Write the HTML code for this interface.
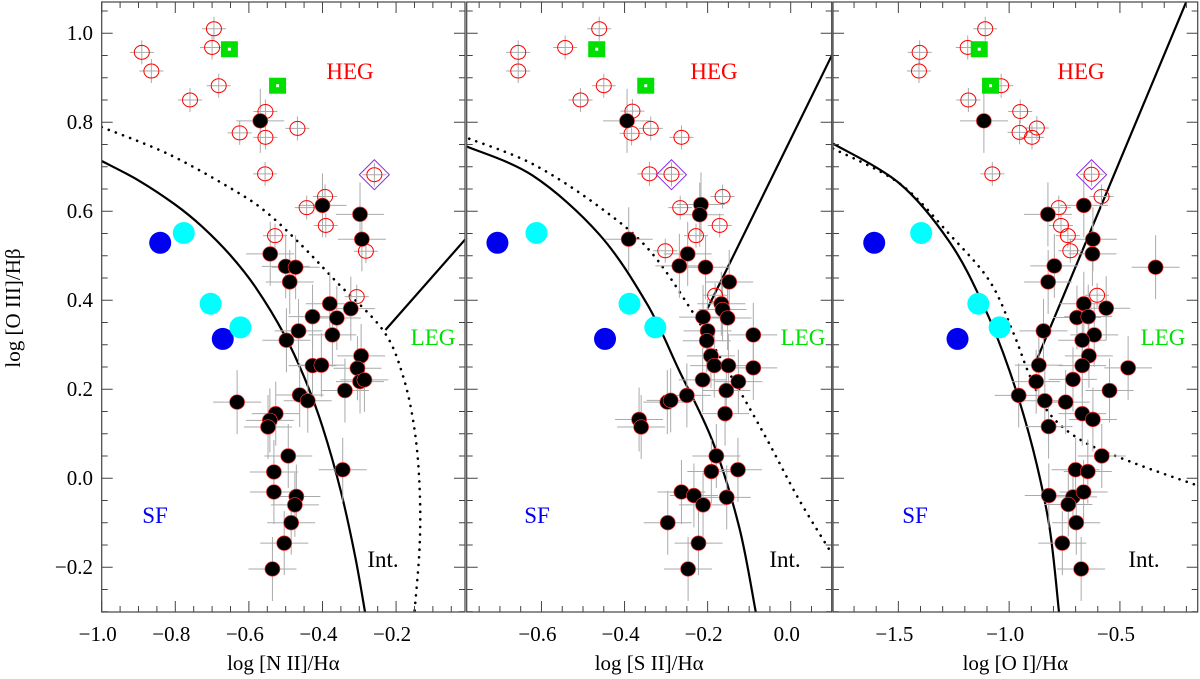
<!DOCTYPE html>
<html><head><meta charset="utf-8"><style>
html,body{margin:0;padding:0;background:#fff;}
svg{display:block;font-family:"Liberation Serif",serif;}
</style></head><body>
<svg id="chart" width="1200" height="679" viewBox="0 0 1200 679" xmlns="http://www.w3.org/2000/svg">
<text transform="translate(20,308) rotate(-90)" text-anchor="middle" font-size="21">log [O III]/Hβ</text>
</svg>
<script>
// ---------- DATA ----------
// Panel 1: [N II]/Hα
const niiHegX=[-0.891,-0.865,-0.695,-0.700,-0.682,-0.760,-0.555,-0.625,-0.555,-0.468,-0.556,-0.393,-0.443,-0.391,-0.529,-0.259,-0.282,-0.307];
const niiHegY=[0.957,0.915,1.010,0.968,0.882,0.850,0.824,0.776,0.766,0.786,0.684,0.633,0.608,0.568,0.545,0.682,0.510,0.408];
const niiLegX=[-0.569,-0.400,-0.298,-0.293,-0.542,-0.500,-0.473,-0.489,-0.380,-0.427,-0.361,-0.323,-0.465,-0.498,-0.373,-0.295,-0.427,-0.403,-0.305,-0.298,-0.286,-0.339,-0.462,-0.440,-0.632,-0.527,-0.543,-0.548,-0.493,-0.345,-0.532,-0.532,-0.471,-0.475,-0.485,-0.504,-0.536];
const niiLegY=[0.803,0.613,0.593,0.537,0.504,0.476,0.474,0.441,0.392,0.363,0.360,0.381,0.331,0.310,0.322,0.275,0.253,0.254,0.247,0.217,0.221,0.197,0.187,0.174,0.171,0.145,0.130,0.115,0.050,0.019,0.014,-0.031,-0.041,-0.060,-0.100,-0.146,-0.204];
const niiSfX=[-0.841,-0.671], niiSfY=[0.529,0.313];
const niiCyX=[-0.777,-0.704,-0.623], niiCyY=[0.551,0.392,0.339];
const niiGrX=[-0.653,-0.522], niiGrY=[0.964,0.882];
const niiDiaX=[-0.259], niiDiaY=[0.682];
// Panel 2: [S II]/Hα
const siiHegX=[-0.461,-0.543,-0.656,-0.656,-0.450,-0.506,-0.381,-0.383,-0.337,-0.263,-0.340,-0.287,-0.164,-0.266,-0.171,-0.228,-0.302,-0.182];
const siiHegY=[1.010,0.968,0.957,0.915,0.882,0.850,0.825,0.775,0.786,0.766,0.684,0.683,0.633,0.608,0.568,0.545,0.511,0.411];
const siiLegX=[-0.394,-0.216,-0.219,-0.390,-0.248,-0.268,-0.205,-0.148,-0.167,-0.164,-0.152,-0.211,-0.200,-0.202,-0.090,-0.192,-0.184,-0.150,-0.090,-0.212,-0.126,-0.155,-0.250,-0.297,-0.289,-0.158,-0.365,-0.360,-0.179,-0.191,-0.127,-0.263,-0.233,-0.211,-0.154,-0.296,-0.222,-0.247];
const siiLegY=[0.803,0.615,0.592,0.537,0.504,0.477,0.474,0.441,0.392,0.379,0.360,0.362,0.331,0.309,0.322,0.275,0.253,0.253,0.248,0.221,0.217,0.197,0.186,0.171,0.175,0.145,0.132,0.115,0.050,0.015,0.019,-0.031,-0.039,-0.060,-0.043,-0.100,-0.146,-0.204];
const siiSfX=[-0.706,-0.447], siiSfY=[0.529,0.313];
const siiCyX=[-0.612,-0.388,-0.326], siiCyY=[0.551,0.392,0.339];
const siiGrX=[-0.467,-0.349], siiGrY=[0.964,0.882];
const siiDiaX=[-0.287], siiDiaY=[0.682];
// Panel 3: [O I]/Hα
const oiHegX=[-1.108,-1.404,-1.407,-1.187,-1.036,-1.184,-0.950,-0.953,-0.875,-0.897,-1.076,-0.628,-0.583,-0.776,-0.766,-0.735,-0.724,-0.603];
const oiHegY=[1.010,0.957,0.915,0.968,0.882,0.850,0.824,0.777,0.787,0.766,0.684,0.683,0.633,0.608,0.568,0.545,0.511,0.411];
const oiLegX=[-1.114,-0.663,-0.825,-0.622,-0.624,-0.796,-0.824,-0.339,-0.663,-0.562,-0.694,-0.643,-0.845,-0.616,-0.670,-0.640,-0.670,-0.866,-0.463,-0.878,-0.712,-0.547,-0.957,-0.839,-0.745,-0.670,-0.622,-0.822,-0.582,-0.700,-0.645,-0.821,-0.712,-0.664,-0.733,-0.697,-0.760,-0.675];
const oiLegY=[0.803,0.613,0.593,0.537,0.504,0.477,0.441,0.474,0.392,0.382,0.361,0.363,0.331,0.322,0.310,0.275,0.253,0.254,0.248,0.217,0.222,0.197,0.186,0.174,0.171,0.145,0.132,0.116,0.050,0.019,0.015,-0.039,-0.042,-0.031,-0.059,-0.100,-0.146,-0.204];
const oiSfX=[-1.609,-1.233], oiSfY=[0.529,0.313];
const oiCyX=[-1.397,-1.139,-1.043], oiCyY=[0.551,0.392,0.339];
const oiGrX=[-1.135,-1.084], oiGrY=[0.964,0.882];
const oiDiaX=[-0.628], oiDiaY=[0.682];
// demarcation lines (data coords)
const niiSolidX=[-1.0,-0.9,-0.8,-0.727,-0.65,-0.58,-0.505,-0.45,-0.4,-0.35,-0.31,-0.284];
const niiDotX=[-1.0,-0.818,-0.636,-0.55,-0.455,-0.364,-0.236,-0.182,-0.150,-0.136,-0.136,-0.150];
const niiDotY=[0.789,0.728,0.645,0.596,0.522,0.443,0.333,0.232,0.110,-0.022,-0.154,-0.301];
const niiLineX=[-0.229,0.0], niiLineY=[0.333,0.548];
const siiSolidX=[-0.782,-0.621,-0.461,-0.345,-0.268,-0.188,-0.124,-0.084];
const siiSolidY=[0.746,0.680,0.548,0.390,0.241,0.083,-0.110,-0.301];
const siiDotX=[-0.774,-0.621,-0.461,-0.341,-0.236,-0.140,-0.060,0.020,0.100];
const siiDotY=[0.763,0.706,0.610,0.513,0.373,0.224,0.092,-0.048,-0.171];
const siiLineX=[-0.200,0.100], siiLineY=[0.382,0.952];
const oiSolidX=[-1.795,-1.494,-1.269,-1.118,-0.998,-0.893,-0.818,-0.775];
const oiSolidY=[0.752,0.662,0.531,0.391,0.241,0.066,-0.110,-0.301];
const oiDotX=[-1.795,-1.494,-1.269,-1.088,-0.983,-0.908,-0.818,-0.667,-0.442,-0.141];
const oiDotY=[0.741,0.662,0.548,0.443,0.329,0.232,0.145,0.083,0.035,-0.018];
const oiLineX=[-0.878,-0.201], oiLineY=[0.263,1.070];
const yTicks=[-0.2,0.0,0.2,0.4,0.6,0.8,1.0];
const yTickLabels=["−0.2","0.0","0.2","0.4","0.6","0.8","1.0"];
const niiTicks=[-1.0,-0.8,-0.6,-0.4,-0.2], niiTickLabels=["−1.0","−0.8","−0.6","−0.4","−0.2"];
const siiTicks=[-0.6,-0.4,-0.2,0.0], siiTickLabels=["−0.6","−0.4","−0.2","0.0"];
const oiTicks=[-1.5,-1.0,-0.5], oiTickLabels=["−1.5","−1.0","−0.5"];

// ---------- RENDER ----------
const NS="http://www.w3.org/2000/svg";
const svg=document.getElementById('chart');
function mk(tag,attrs,parent){const e=document.createElementNS(NS,tag);for(const k in attrs)e.setAttribute(k,attrs[k]);(parent||svg).appendChild(e);return e;}
const Y0=2,Y1=612;
function yScale(v){return 33.2+(1-v)*445;}
const panels=[
 {key:'nii',x0:101.7,x1:465,xmin:-1.0,xmax:-0.0127,minor:0.05,ticks:niiTicks,labels:niiTickLabels,title:'log [N II]/Hα',
  heg:[niiHegX,niiHegY],leg:[niiLegX,niiLegY],sf:[niiSfX,niiSfY],cy:[niiCyX,niiCyY],gr:[niiGrX,niiGrY],dia:[niiDiaX,niiDiaY],
  solid:[niiSolidX,niiSolidX.map(x=>0.383/(x+0.011)+1.1)],dot:[niiDotX,niiDotY],line:[niiLineX,niiLineY],
  lab:{heg:[350,79],leg:[433,345],sf:[155,523],int:[383,567]}},
 {key:'sii',x0:466.7,x1:831.7,xmin:-0.780,xmax:0.0987,minor:0.05,ticks:siiTicks,labels:siiTickLabels,title:'log [S II]/Hα',
  heg:[siiHegX,siiHegY],leg:[siiLegX,siiLegY],sf:[siiSfX,siiSfY],cy:[siiCyX,siiCyY],gr:[siiGrX,siiGrY],dia:[siiDiaX,siiDiaY],
  solid:[siiSolidX,siiSolidY],dot:[siiDotX,siiDotY],line:[siiLineX,siiLineY],
  lab:{heg:[714,79],leg:[803,345],sf:[537,523],int:[785,567]}},
 {key:'oi',x0:833,x1:1197.7,xmin:-1.795,xmax:-0.149,minor:0.1,ticks:oiTicks,labels:oiTickLabels,title:'log [O I]/Hα',
  heg:[oiHegX,oiHegY],leg:[oiLegX,oiLegY],sf:[oiSfX,oiSfY],cy:[oiCyX,oiCyY],gr:[oiGrX,oiGrY],dia:[oiDiaX,oiDiaY],
  solid:[oiSolidX,oiSolidY],dot:[oiDotX,oiDotY],line:[oiLineX,oiLineY],
  lab:{heg:[1081,79],leg:[1163,345],sf:[915,523],int:[1144,567]}}
];
function smooth(pts){
 let d='M'+pts[0][0].toFixed(1)+','+pts[0][1].toFixed(1);
 for(let i=0;i<pts.length-1;i++){
  const p0=pts[Math.max(0,i-1)],p1=pts[i],p2=pts[i+1],p3=pts[Math.min(pts.length-1,i+2)];
  const c1=[p1[0]+(p2[0]-p0[0])/6,p1[1]+(p2[1]-p0[1])/6];
  const c2=[p2[0]-(p3[0]-p1[0])/6,p2[1]-(p3[1]-p1[1])/6];
  d+=`C${c1[0].toFixed(1)},${c1[1].toFixed(1)} ${c2[0].toFixed(1)},${c2[1].toFixed(1)} ${p2[0].toFixed(1)},${p2[1].toFixed(1)}`;
 }
 return d;
}
panels.forEach((p,pi)=>{
 const xs=v=>p.x0+(v-p.xmin)/(p.xmax-p.xmin)*(p.x1-p.x0);
 const g=mk('g',{});
 
 
 const cp=mk('clipPath',{id:'clip'+pi},g);
 mk('rect',{x:p.x0,y:Y0,width:p.x1-p.x0,height:Y1-Y0},cp);
 const plot=mk('g',{'clip-path':'url(#clip'+pi+')'},g);
 const pts=(arrX,arrY)=>arrX.map((x,i)=>[xs(x),yScale(arrY[i])]);
 const sl=mk('path',{d:smooth(pts(p.solid[0],p.solid[1])),fill:'none',stroke:'#000','stroke-width':2.2},plot);
 
 
 const dl=mk('path',{d:smooth(pts(p.dot[0],p.dot[1])),fill:'none',stroke:'#000','stroke-width':2.6,'stroke-dasharray':'0.1,7.5','stroke-linecap':'round'},plot);
 
 
 const lp=pts(p.line[0],p.line[1]);
 const ll=mk('path',{d:`M${lp[0][0]},${lp[0][1]}L${lp[1][0]},${lp[1][1]}`,fill:'none',stroke:'#000','stroke-width':2.2},plot);
 
 
 const eb=(X,Y,ex,ey)=>X.forEach((x,i)=>{
   const cx=xs(x),cy=yScale(Y[i]);
   const e=mk('path',{d:`M${cx-ex},${cy}H${cx+ex}M${cx},${cy-ey}V${cy+ey}`,stroke:'#aaa','stroke-width':1,fill:'none'},plot);
   
   
 });
 eb(p.leg[0],p.leg[1],24,32);
 eb(p.heg[0],p.heg[1],12,12);
 p.heg[0].forEach((x,i)=>{
   const c=mk('ellipse',{cx:xs(x),cy:yScale(p.heg[1][i]),rx:7.5,ry:7,fill:'none',stroke:'#f00','stroke-width':1},plot);
   
   
 });
 p.leg[0].forEach((x,i)=>{
   const c=mk('ellipse',{cx:xs(x),cy:yScale(p.leg[1][i]),rx:7.5,ry:7.3,fill:'#000',stroke:'#f33','stroke-width':0.7},plot);
   
   
 });
 p.sf[0].forEach((x,i)=>{
   const c=mk('ellipse',{cx:xs(x),cy:yScale(p.sf[1][i]),rx:11,ry:11,fill:'#0000f0'},plot);
   
   
 });
 p.cy[0].forEach((x,i)=>{
   const c=mk('ellipse',{cx:xs(x),cy:yScale(p.cy[1][i]),rx:11,ry:11,fill:'#00ffff'},plot);
   
   
 });
 p.gr[0].forEach((x,i)=>{
   const cx=xs(x),cy=yScale(p.gr[1][i]);
   const r=mk('rect',{x:cx-8.5,y:cy-8,width:17,height:16,fill:'#00e000'},plot);
   
   
   mk('rect',{x:cx-1.5,y:cy-1.5,width:3,height:3,fill:'#fff'},plot);
 });
 p.dia[0].forEach((x,i)=>{
   const cx=xs(x),cy=yScale(p.dia[1][i]);
   const d=mk('path',{d:`M${cx},${cy-15}L${cx+15},${cy}L${cx},${cy+15}L${cx-15},${cy}Z`,fill:'none',stroke:'#8a2be2','stroke-width':1},plot);
   
   
 });
 const fr=mk('rect',{x:p.x0,y:Y0,width:p.x1-p.x0,height:Y1-Y0,fill:'none',stroke:'#444','stroke-width':1.2},g);
 
 
 for(let v=-0.3;v<=1.07;v+=0.05){
   const vv=Math.round(v*100)/100;const y=yScale(vv);
   const major=Math.abs(Math.round(vv*10)%2)===0&&Math.abs(vv*10-Math.round(vv*10))<1e-6;
   const L=major?11:6;
   mk('path',{d:`M${p.x0},${y}h${L}M${p.x1},${y}h${-L}`,stroke:'#444','stroke-width':1},g);
 }
 const start=Math.ceil(p.xmin/p.minor)*p.minor;
 for(let v=start;v<=p.xmax+1e-9;v+=p.minor){
   const x=xs(v);
   const isMaj=p.ticks.some(t=>Math.abs(t-v)<1e-6);
   const L=isMaj?11:6;
   mk('path',{d:`M${x},${Y1}v${-L}M${x},${Y0}v${L}`,stroke:'#444','stroke-width':1},g);
 }
 p.ticks.forEach((t,i)=>{
   const tl=mk('text',{x:xs(t)-4,y:641,'text-anchor':'middle','font-size':21},g);
   tl.textContent=p.labels[i];
   
   
 });
 const xt=mk('text',{x:(p.x0+p.x1)/2,y:670,'text-anchor':'middle','font-size':21},g);
 xt.textContent=p.title;
 
 
 const lab=(txt,pos,col,name)=>{const t=mk('text',{x:pos[0],y:pos[1],'text-anchor':'middle','font-size':23,fill:col},g);t.textContent=txt;
   
   };
 lab('HEG',p.lab.heg,'#f00','heg-label');
 lab('LEG',p.lab.leg,'#00e000','leg-label');
 lab('SF',p.lab.sf,'#0000f0','sf-label');
 lab('Int.',p.lab.int,'#000','int-label');
});
yTicks.forEach((v,i)=>{
 const t=mk('text',{x:93,y:yScale(v)+7,'text-anchor':'end','font-size':21});
 t.textContent=yTickLabels[i];
 
 
});
</script>
</body></html>
